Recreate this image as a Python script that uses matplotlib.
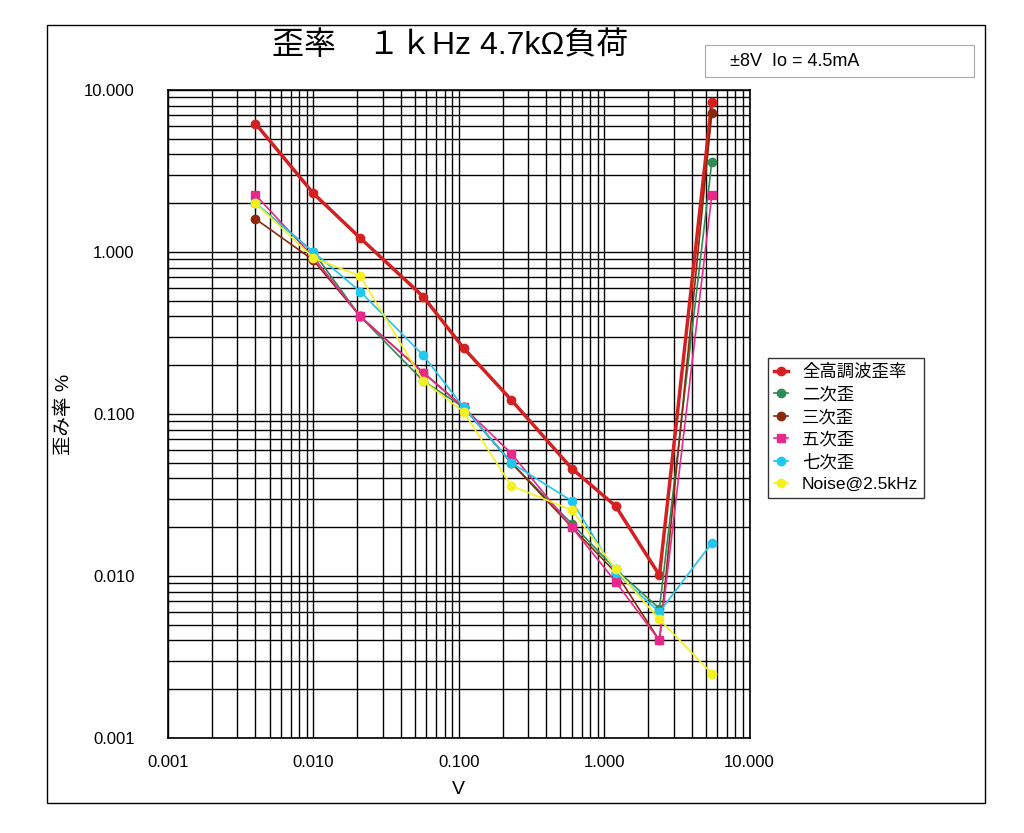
import matplotlib.pyplot as plt
import matplotlib.ticker as mticker
from matplotlib.patches import Rectangle

plt.rcParams['font.family'] = ['Liberation Sans', 'Noto Sans CJK JP', 'DejaVu Sans']

v = [0.004, 0.01, 0.021, 0.057, 0.108, 0.23, 0.6, 1.2, 2.4, 5.5]
thd = [6.2, 2.3, 1.22, 0.53, 0.255, 0.122, 0.046, 0.027, 0.0101, 8.4]
h2 = [2.0, 1.0, 0.4, 0.16, 0.11, 0.05, 0.021, 0.011, 0.0063, 3.6]
h3 = [1.6, 0.89, 0.4, 0.18, 0.11, 0.05, 0.02, 0.0105, 0.004, 7.2]
h5 = [2.25, 0.93, 0.4, 0.18, 0.11, 0.057, 0.02, 0.0092, 0.004, 2.25]
h7 = [2.0, 1.0, 0.57, 0.23, 0.11, 0.05, 0.029, 0.0105, 0.006, 0.016]
noise = [2.0, 0.92, 0.71, 0.16, 0.103, 0.036, 0.0255, 0.011, 0.0054, 0.0025]

series = [
    ('全高調波歪率', thd, '#d42020', 'o', 2.5),
    ('二次歪', h2, '#2e8b57', 'o', 1.2),
    ('三次歪', h3, '#8b2a0a', 'o', 1.2),
    ('五次歪', h5, '#e8288a', 's', 1.2),
    ('七次歪', h7, '#1ec8f0', 'o', 1.2),
    ('Noise@2.5kHz', noise, '#f5f020', 'o', 1.2),
]

fig = plt.figure(figsize=(10.24, 8.33), dpi=100)
fig.patches.append(Rectangle((47/1024, 1-803/833), 938/1024, 778/833,
                             transform=fig.transFigure, fill=False, ec='black', lw=1))
ax = fig.add_axes([0.164, 0.114, 0.568, 0.778])

for label, ys, c, m, lw in series:
    ax.plot(v, ys, color=c, marker=m, markersize=6, lw=lw, label=label)

ax.set_xscale('log')
ax.set_yscale('log')
ax.set_xlim(0.001, 10)
ax.set_ylim(0.001, 10)
fmt = mticker.FuncFormatter(lambda x, p: '%.3f' % x)
ax.xaxis.set_major_formatter(fmt)
ax.yaxis.set_major_formatter(fmt)
ax.xaxis.set_minor_formatter(mticker.NullFormatter())
ax.yaxis.set_minor_formatter(mticker.NullFormatter())
ax.grid(True, which='both', color='black', lw=1)
ax.tick_params(which='both', length=0, labelsize=12)
ax.tick_params(axis='x', pad=12)
ax.tick_params(axis='y', pad=24)
for s in ax.spines.values():
    s.set_linewidth(1.2)
ax.set_xlabel('V', fontsize=14, labelpad=8)
ax.set_ylabel('歪み率 %', fontsize=14, labelpad=8)

fig.text(0.44, 0.945, '歪率　１ｋHz 4.7kΩ負荷', fontsize=23, ha='center', va='center')
fig.patches.append(Rectangle((705/1024, 1-77/833), 269/1024, 32/833,
                             transform=fig.transFigure, fill=False, ec='#aaaaaa', lw=0.8))
fig.text(730/1024, 1-61/833, '±8V  Io = 4.5mA', fontsize=13, va='center')

ax.legend(loc='upper left', bbox_to_anchor=(1.017, 0.60), frameon=True, fancybox=False,
          edgecolor='black', fontsize=12.5, handlelength=0.8, borderpad=0.35, labelspacing=0.38)

fig.savefig('out.png', dpi=100)
